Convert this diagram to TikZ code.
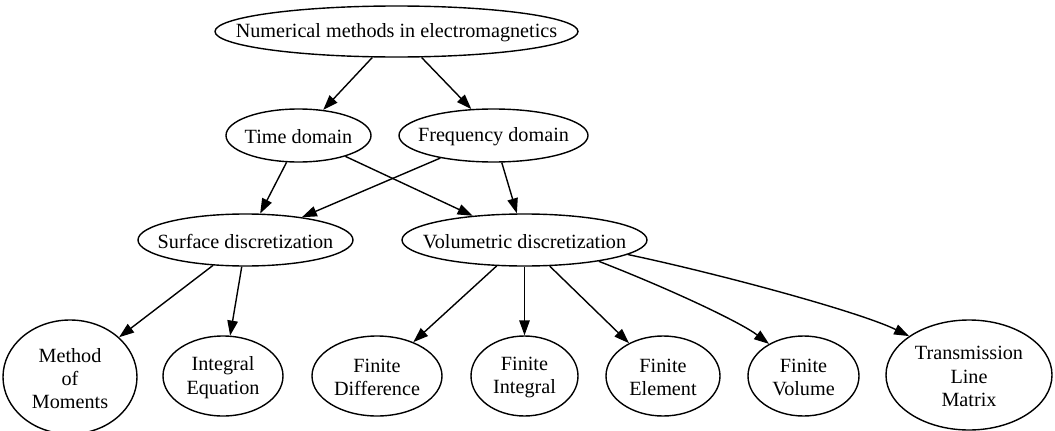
\documentclass[tikz,border=0pt]{standalone}
\usepackage{fontspec}
\setmainfont{Liberation Serif}
\usetikzlibrary{shapes.geometric,arrows.meta}
\begin{document}
\begin{tikzpicture}[x=1pt,y=-1pt,
  ell/.style={draw, ellipse, line width=1.4pt, inner sep=0pt},
  lbl/.style={align=center, inner sep=0pt, yshift=-1.5pt, font=\fontsize{20.2}{23.3}\selectfont},
  edge/.style={line width=1.4pt, -{Triangle[length=15pt,width=10.5pt]}}]
\fill[white] (0,0) rectangle (1055,431);
\useasboundingbox (0,0) rectangle (1055,431);
\node[ell, minimum width=363pt, minimum height=51pt, label={[lbl]center:Numerical methods in electromagnetics}] (top) at (396.5,31.5) {};
\node[ell, minimum width=145pt, minimum height=53pt, label={[lbl]center:Time domain}] (time) at (298.5,135.5) {};
\node[ell, minimum width=189pt, minimum height=53pt, label={[lbl]center:Frequency domain}] (freq) at (493.5,135.5) {};
\node[ell, minimum width=215pt, minimum height=52pt, label={[lbl]center:Surface discretization}] (surf) at (245.5,240) {};
\node[ell, minimum width=245pt, minimum height=52pt, label={[lbl]center:Volumetric discretization}] (vol) at (524.5,240) {};
\node[ell, minimum width=134pt, minimum height=114pt, label={[lbl]center:Method\\of\\Moments}] (mom) at (70,377) {};
\node[ell, minimum width=120pt, minimum height=80pt, label={[lbl]center:Integral\\Equation}] (ie) at (223,376) {};
\node[ell, minimum width=130pt, minimum height=80pt, label={[lbl]center:Finite\\Difference}] (fd) at (377,376) {};
\node[ell, minimum width=107pt, minimum height=80pt, label={[lbl]center:Finite\\Integral}] (fi) at (524.5,376) {};
\node[ell, minimum width=114pt, minimum height=80pt, label={[lbl]center:Finite\\Element}] (fe) at (663,376) {};
\node[ell, minimum width=111pt, minimum height=80pt, label={[lbl]center:Finite\\Volume}] (fv) at (803.5,376) {};
\node[ell, minimum width=166pt, minimum height=110pt, label={[lbl]center:Transmission\\Line\\Matrix}] (tlm) at (969,375) {};
\draw[edge] (top.227) -- (time.46);
\draw[edge] (top.314) -- (freq.130);
\draw[edge] (time.246.5) -- (surf.61.8);
\draw[edge] (time.336) -- (vol.155.9);
\draw[edge] (freq.203.6) -- (surf.22.9);
\draw[edge] (freq.287) -- (vol.106);
\draw[edge] (surf.218.7) -- (mom.39.8);
\draw[edge] (surf.262.6) -- (ie.80.3);
\draw[edge] (vol.223.4) -- (fd.43.4);
\draw[edge] (vol.270) -- (fi.90);
\draw[edge] (vol.314.4) -- (fe.136.7);
\draw[edge] (vol.344.5) .. controls (670,289) and (740,322) .. (fv.137.1);
\draw[edge] (vol.352.2) .. controls (720,274) and (860,312) .. (tlm.147.2);
\end{tikzpicture}
\end{document}
